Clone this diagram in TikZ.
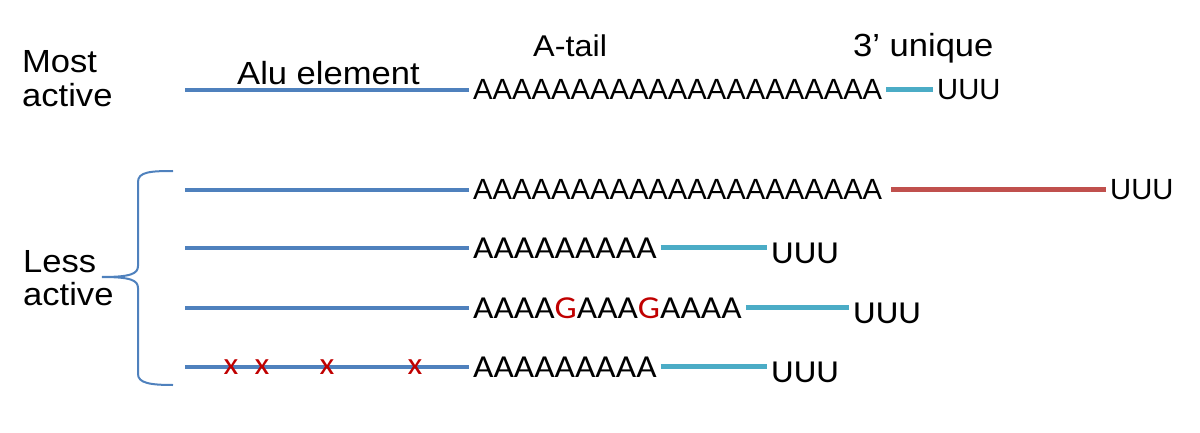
\documentclass[tikz,border=0pt]{standalone}
\usepackage{fontspec}
\setmainfont{Liberation Sans}
\newfontfamily\lblfont{Liberation Sans}[FakeStretch=1.08]
\newfontfamily\calfont{Carlito}[FakeStretch=1.1]
\definecolor{alublue}{HTML}{4F81BD}
\definecolor{uniqcyan}{HTML}{4BACC6}
\definecolor{uniqred}{HTML}{C0504D}
\definecolor{mutred}{HTML}{C00000}
\begin{document}
\begin{tikzpicture}[x=1pt,y=-1pt,
  lbl/.style={font=\lblfont\fontsize{32}{34}\selectfont,inner sep=0pt,anchor=base west},
  seq/.style={font=\fontsize{29.2}{32}\selectfont,inner xsep=4pt,inner ysep=0pt,anchor=base west},
  cseq/.style={font=\calfont\fontsize{32}{34}\selectfont,inner xsep=4pt,inner ysep=0pt,anchor=base west},
  mutx/.style={font=\calfont\fontsize{31}{32}\selectfont,text=mutred,inner sep=0pt},
  alu/.style={alublue,line width=4pt},
  uniq/.style={uniqcyan,line width=5pt},
  longuniq/.style={uniqred,line width=5pt},
  brace/.style={alublue,line width=2pt}]
\useasboundingbox (0,0) rectangle (1200,433);

% labels
\node[lbl,align=left] (most) at (22,107) {Most\\active};
\node[lbl,align=left,font=\lblfont\fontsize{32}{33}\selectfont] (less) at (23,305) {Less\\active};
\node[lbl] (alulbl) at (237,85) {Alu element};
\node[lbl,font=\lblfont\fontsize{30}{32}\selectfont] (atail) at (533,57) {A-tail};
\node[lbl] (uniqlbl) at (853,57) {3’ unique};

% sequences
\node[seq] (a1) at (469,100) {AAAAAAAAAAAAAAAAAAAAA};
\node[seq] (u1) at (933,100) {UUU};
\node[seq] (a2) at (469,200) {AAAAAAAAAAAAAAAAAAAAA};
\node[seq] (u2) at (1106,200) {UUU};
\node[cseq] (a3) at (469,258) {AAAAAAAAA};
\node[cseq] (u3) at (767,263) {UUU};
\node[cseq] (a4) at (469,318) {AAAA\textcolor{mutred}{G}AAA\textcolor{mutred}{G}AAAA};
\node[cseq] (u4) at (849,323) {UUU};
\node[cseq] (a5) at (469,377) {AAAAAAAAA};
\node[cseq] (u5) at (767,382) {UUU};

% Alu element lines
\coordinate (start) at (185,0);
\foreach \r in {1,...,5}
  \draw[alu] (start |- a\r.west) -- (a\r.west);

% 3' unique parts
\draw[uniq] (a1.east) -- (a1.east -| u1.west);
\draw[longuniq] ([xshift=5pt]a2.east) -- (a2.east -| u2.west);
\draw[uniq] (a3.east) -- (a3.east -| u3.west);
\draw[uniq] (a4.east) -- (a4.east -| u4.west);
\draw[uniq] (a5.east) -- (a5.east -| u5.west);

% mutations
\foreach \xm [count=\i] in {231,262,327,415}
  \node[mutx] (x\i) at (\xm,367) {x};

% brace
\draw[brace] (173,171) .. controls (150,171) and (138,172) .. (138,182) -- (138,266)
  .. controls (138,274) and (130,277) .. (102,277);
\draw[brace] (102,277) .. controls (130,277) and (138,280) .. (138,288) -- (138,374)
  .. controls (138,383) and (150,385) .. (173,385);
\end{tikzpicture}
\end{document}
